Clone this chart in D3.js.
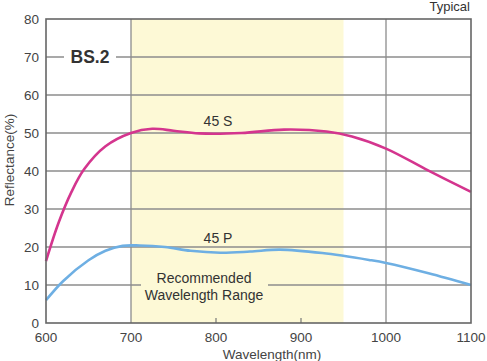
<!DOCTYPE html>
<html><head><meta charset="utf-8">
<script src="https://cdn.jsdelivr.net/npm/d3@7"></script>
<style>body{margin:0;background:#fff}svg{display:block}text{font-family:"Liberation Sans",Arial,sans-serif}</style>
</head><body>
<script>
const sWave = [600,615,630,645,670,700,725,750,780,830,880,930,960,1000,1050,1100];
const sRefl = [16.3,26.5,34.5,40.5,46.5,50,51.1,50.6,49.9,50,50.9,50.4,49.1,45.9,40.1,34.5];
const pWave = [600,620,650,670,690,710,740,770,805,840,875,925,980,1000,1050,1100];
const pRefl = [6,11,16.5,19,20.3,20.4,20,19,18.5,18.8,19.3,18.4,16.6,15.8,13.1,10];
const xTicks = [600,700,800,900,1000,1100];
const yTicks = [0,10,20,30,40,50,60,70,80];
const bandRange = [700,950];

const W=487,H=361,m={l:46,t:19,r:16,b:38};
const svg=d3.select("body").append("svg").attr("width",W).attr("height",H);
const x=d3.scaleLinear().domain([600,1100]).range([m.l,W-m.r]);
const y=d3.scaleLinear().domain([0,80]).range([H-m.b,m.t]);

// band
svg.append("rect").attr("x",x(bandRange[0])).attr("y",y(80)).attr("width",x(bandRange[1])-x(bandRange[0])).attr("height",y(0)-y(80)).attr("fill","#fdf9d6");

// horizontal grid
svg.append("g").selectAll("line").data(yTicks.filter(d=>d>0&&d<80)).join("line")
 .attr("x1",x(600)).attr("x2",x(1100)).attr("y1",d=>y(d)).attr("y2",d=>y(d))
 .attr("stroke","#8c8c8c").attr("stroke-width",1.3);
// vertical grid
svg.append("g").selectAll("line").data([700,1000]).join("line")
 .attr("y1",y(0)).attr("y2",y(80)).attr("x1",d=>x(d)).attr("x2",d=>x(d))
 .attr("stroke","#8c8c8c").attr("stroke-width",1.3);
// inner ticks at 800, 900
svg.append("g").selectAll("line").data([800,900]).join("line")
 .attr("y1",y(0)).attr("y2",y(0)-5).attr("x1",d=>x(d)).attr("x2",d=>x(d))
 .attr("stroke","#777").attr("stroke-width",1.2);

// BS.2 label
svg.append("rect").attr("x",64).attr("y",y(70)-10).attr("width",52).attr("height",20).attr("fill","#fff");
svg.append("text").attr("x",90).attr("y",y(70)+6).attr("text-anchor","middle").attr("font-size",17.5).attr("font-weight","bold").attr("fill","#333").text("BS.2");

// range label
svg.append("rect").attr("x",141).attr("y",y(10)-14).attr("width",127).attr("height",32).attr("fill","#fdf9d6");
svg.append("text").attr("x",204).attr("y",283).attr("text-anchor","middle").attr("font-size",14).attr("fill","#333").text("Recommended");
svg.append("text").attr("x",204).attr("y",300).attr("text-anchor","middle").attr("font-size",14).attr("fill","#333").text("Wavelength Range");

// curves
const line=d3.line().x(d=>x(d[0])).y(d=>y(d[1])).curve(d3.curveCatmullRom.alpha(0.5));
svg.append("path").datum(sWave.map((w,i)=>[w,sRefl[i]])).attr("d",line).attr("fill","none").attr("stroke","#d4358e").attr("stroke-width",2.6);
svg.append("path").datum(pWave.map((w,i)=>[w,pRefl[i]])).attr("d",line).attr("fill","none").attr("stroke","#6eafe3").attr("stroke-width",2.6);

svg.append("text").attr("x",218).attr("y",126).attr("text-anchor","middle").attr("font-size",14).attr("fill","#333").text("45 S");
svg.append("text").attr("x",218).attr("y",243).attr("text-anchor","middle").attr("font-size",14).attr("fill","#333").text("45 P");

// frame
svg.append("rect").attr("x",x(600)).attr("y",y(80)).attr("width",x(1100)-x(600)).attr("height",y(0)-y(80)).attr("fill","none").attr("stroke","#666").attr("stroke-width",1.6);

// axes labels
svg.append("g").selectAll("text").data(xTicks).join("text")
 .attr("x",d=>x(d)).attr("y",342).attr("text-anchor","middle").attr("font-size",13.5).attr("fill","#444").text(d=>d);
svg.append("g").selectAll("text").data(yTicks).join("text")
 .attr("x",39).attr("y",d=>y(d)+5).attr("text-anchor","end").attr("font-size",13.5).attr("fill","#444").text(d=>d);

svg.append("text").attr("transform","translate(14,160) rotate(-90)").attr("text-anchor","middle").attr("font-size",13.5).attr("fill","#444").text("Reflectance(%)");
svg.append("text").attr("x",272).attr("y",359).attr("text-anchor","middle").attr("font-size",13.5).attr("fill","#444").text("Wavelength(nm)");
svg.append("text").attr("x",470).attr("y",11).attr("text-anchor","end").attr("font-size",13).attr("fill","#333").text("Typical");
</script>
</body></html>
